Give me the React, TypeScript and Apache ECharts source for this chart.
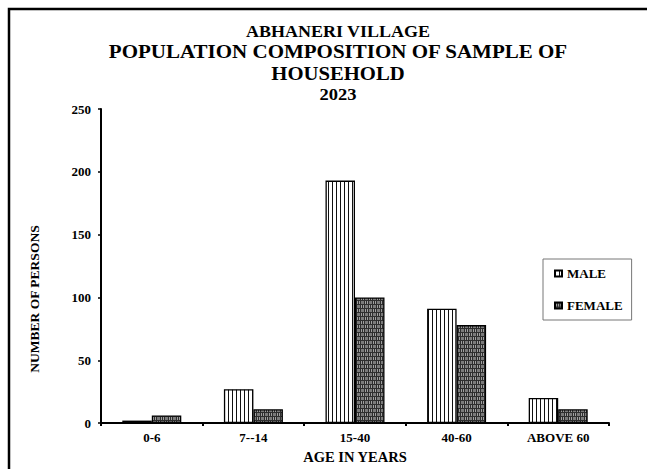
import React, { useEffect, useRef } from "react";
import * as echarts from "echarts";

const categories = ["0-6", "7--14", "15-40", "40-60", "ABOVE 60"];
const maleValues = [2, 27, 193, 91, 20];
const femaleValues = [6, 11, 100, 78, 11];
const titleLines = ["ABHANERI VILLAGE", "POPULATION COMPOSITION OF SAMPLE OF", "HOUSEHOLD", "2023"];
const yAxisTitle = "NUMBER OF PERSONS";
const xAxisTitle = "AGE IN YEARS";
const seriesNames = ["MALE", "FEMALE"];

const FONT = "Liberation Serif";

function makeMalePattern(): HTMLCanvasElement {
  const c = document.createElement("canvas");
  c.width = 4;
  c.height = 4;
  const g = c.getContext("2d")!;
  g.fillStyle = "#ffffff";
  g.fillRect(0, 0, 4, 4);
  g.fillStyle = "#111111";
  g.fillRect(0, 0, 1, 4);
  return c;
}

function makeFemalePattern(): HTMLCanvasElement {
  const c = document.createElement("canvas");
  c.width = 8;
  c.height = 8;
  const g = c.getContext("2d")!;
  g.fillStyle = "#2e2e2e";
  g.fillRect(0, 0, 8, 8);
  g.fillStyle = "#a0a0a0";
  for (const [ox, oy] of [[0, 0], [4, 4]]) {
    g.fillRect(ox + 1, oy + 1, 1, 3);
    g.fillRect(ox + 3, oy + 1, 1, 3);
  }
  g.fillStyle = "#7a7a7a";
  for (const [ox, oy] of [[4, 0], [0, 4]]) {
    g.fillRect(ox + 1, oy + 1, 3, 3);
  }
  return c;
}

export default function App() {
  const ref = useRef<HTMLDivElement>(null);
  useEffect(() => {
    if (!ref.current) return;
    const chart = echarts.init(ref.current, undefined, { renderer: "svg" });
    const malePattern = { image: makeMalePattern(), repeat: "repeat" as const };
    const femalePattern = { image: makeFemalePattern(), repeat: "repeat" as const };
    const titleY = [31, 51.7, 73.3, 94];
    const titleSize = [17, 19, 19, 17];
    const titleScaleX = [1.06, 1.105, 1.09, 1.09];
    chart.setOption({
      animation: false,
      backgroundColor: "#ffffff",
      textStyle: { fontFamily: FONT },
      graphic: [
        {
          type: "rect",
          shape: { x: 9, y: 9, width: 720, height: 620 },
          style: { fill: "none", stroke: "#000", lineWidth: 2.5 },
          silent: true,
        },
        ...titleLines.map((t, i) => ({
          type: "text",
          x: 338,
          y: titleY[i],
          scaleX: titleScaleX[i],
          style: {
            text: t,
            fontFamily: FONT,
            fontWeight: "bold",
            fontSize: titleSize[i],
            fill: "#000",
            textAlign: "center",
            textVerticalAlign: "middle",
          },
        })),
        {
          type: "text",
          x: 34,
          y: 299,
          rotation: Math.PI / 2,
          style: {
            text: yAxisTitle,
            fontFamily: FONT,
            fontWeight: "bold",
            fontSize: 13.5,
            fill: "#000",
            textAlign: "center",
            textVerticalAlign: "middle",
          },
        },
      ],
      legend: {
        orient: "vertical",
        left: 543,
        top: 259,
        padding: [8, 9, 8, 11],
        itemGap: 19,
        itemWidth: 7,
        itemHeight: 6,
        borderColor: "#777",
        borderWidth: 1,
        icon: "rect",
        textStyle: { fontFamily: FONT, fontWeight: "bold", fontSize: 13, color: "#000" },
        data: seriesNames,
      },
      grid: { left: 101, right: 38, top: 109, bottom: 41, containLabel: false },
      xAxis: {
        type: "category",
        data: categories,
        name: xAxisTitle,
        nameLocation: "middle",
        nameGap: 25,
        nameTextStyle: { fontFamily: FONT, fontWeight: "bold", fontSize: 14.5, color: "#000" },
        axisLine: { lineStyle: { color: "#000", width: 2 } },
        axisTick: { show: true, length: 3, lineStyle: { color: "#000", width: 2 } },
        axisLabel: { fontFamily: FONT, fontWeight: "bold", fontSize: 13, color: "#000", margin: 8 },
      },
      yAxis: {
        type: "value",
        min: 0,
        max: 250,
        interval: 50,
        splitLine: { show: false },
        axisLine: { show: true, lineStyle: { color: "#000", width: 2 } },
        axisTick: { show: true, length: 3, lineStyle: { color: "#000", width: 1.5 } },
        axisLabel: { fontFamily: FONT, fontWeight: "bold", fontSize: 13, color: "#000", margin: 10 },
      },
      series: [
        {
          name: seriesNames[0],
          type: "bar",
          data: maleValues,
          barWidth: 29.5,
          barGap: "0%",
          itemStyle: { color: malePattern, borderColor: "#000", borderWidth: 1.3 },
        },
        {
          name: seriesNames[1],
          type: "bar",
          data: femaleValues,
          barWidth: 29.5,
          barGap: "0%",
          itemStyle: { color: femalePattern, borderColor: "#000", borderWidth: 1.3 },
        },
      ],
    });
    return () => chart.dispose();
  }, []);
  return (
    <div
      ref={ref}
      style={{ position: "absolute", left: 0, top: 0, width: 647, height: 469 }}
    />
  );
}
